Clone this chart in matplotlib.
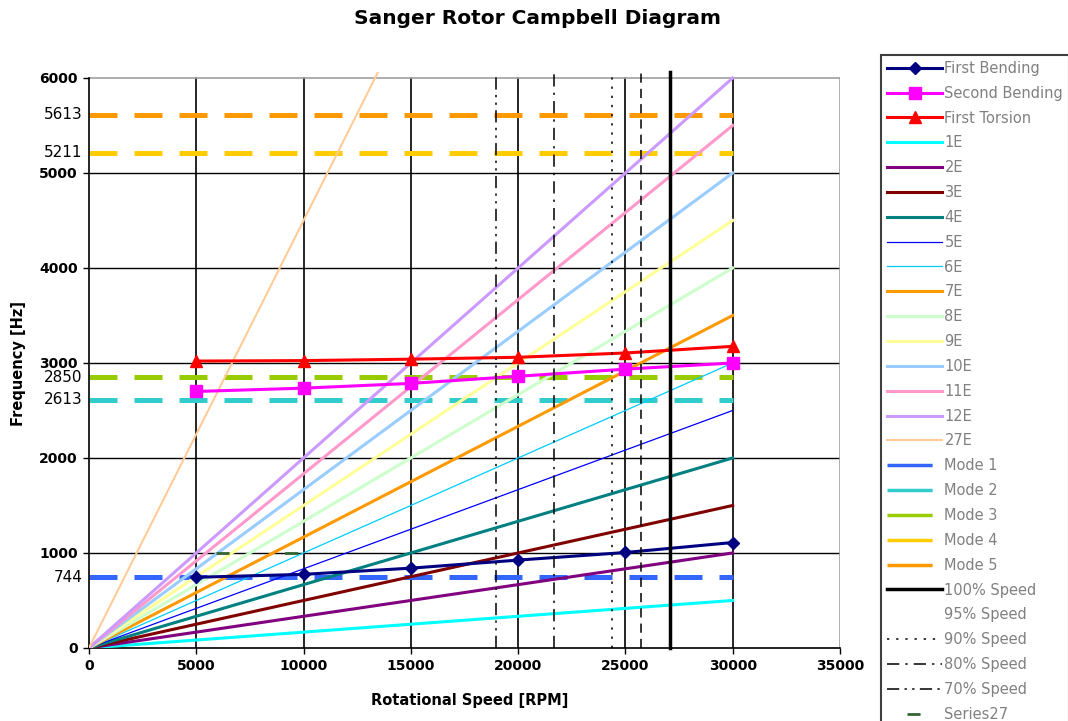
import matplotlib
matplotlib.use('Agg')
from matplotlib import pyplot as plt
from matplotlib.lines import Line2D

# rotor speed stations (RPM)
rpm = [5000, 10000, 15000, 20000, 25000, 30000]
first_bending = [744, 775, 840, 925, 1005, 1110]
second_bending = [2700, 2735, 2785, 2860, 2935, 3000]
first_torsion = [3020, 3025, 3040, 3060, 3105, 3175]

# engine order lines: frequency at 0 and at 30000 RPM
order_names = ['1E', '2E', '3E', '4E', '5E', '6E', '7E', '8E', '9E', '10E', '11E', '12E', '27E']
order_rpm = [0, 30000]
order_end = [500, 1000, 1500, 2000, 2500, 3000, 3500, 4000, 4500, 5000, 5500, 6000, 13500]
order_colors = ['#00FFFF', '#800080', '#800000', '#008080', '#0000FF', '#00CCFF', '#FF9900',
                '#CCFFCC', '#FFFF99', '#99CCFF', '#FF99CC', '#CC99FF', '#FFCC99']
order_widths = [2.2, 2.2, 2.2, 2.2, 0.9, 0.9, 2.2, 2.2, 2.2, 2.2, 2.2, 2.2, 1.5]

# blade modes (Hz)
mode_names = ['Mode 1', 'Mode 2', 'Mode 3', 'Mode 4', 'Mode 5']
mode_freq = [744, 2613, 2850, 5211, 5613]
mode_colors = ['#3366FF', '#33CCCC', '#99CC00', '#FFCC00', '#FF9900']

# speed lines
max_speed = 27100
speed_pct = [100, 95, 90, 80, 70]
speed_names = ['100% Speed', '95% Speed', '90% Speed', '80% Speed', '70% Speed']
speed_styles = ['-', (0, (6, 4)), (0, (1.5, 4.5)), (0, (8, 4, 1.5, 4)), (0, (8, 3.5, 1.5, 3.5, 1.5, 3.5))]
speed_widths = [2.5, 1.1, 1.1, 1.1, 1.1]

ytop = 6065

fig = plt.figure(figsize=(10.68, 7.21), dpi=100)
ax = fig.add_axes([0.0833, 0.1013, 0.7032, 0.7991])
ax.set_xlim(0, 35000)
ax.set_ylim(0, ytop)

# grid
for x in range(5000, 35000, 5000):
    ax.axvline(x, 0, 6000 / ytop, color='black', lw=1.2, zorder=1)
for y in range(1000, 6000, 1000):
    ax.axhline(y, color='black', lw=1.0, zorder=1)
ax.axhline(6000, color='#a0a0a0', lw=1.2, zorder=1)
ax.axvline(35000, 0, 6000 / ytop, color='#a0a0a0', lw=1.2, zorder=1)

# modes
mode_lines = []
for name, f, c in zip(mode_names, mode_freq, mode_colors):
    ax.plot([0, 30000], [f, f], color=c, lw=3.6, dashes=(5.6, 3.4), zorder=2)
    mode_lines.append(Line2D([], [], color=c, lw=2.5, linestyle=(0, (13, 20))))

# order lines
order_lines = []
for name, e, c, w in zip(order_names, order_end, order_colors, order_widths):
    l, = ax.plot(order_rpm, [0, e], color=c, lw=w, zorder=3)
    order_lines.append(l)

# blade natural frequencies
fb, = ax.plot(rpm, first_bending, color='#000080', lw=2.2, marker='D', ms=6, zorder=5)
sb, = ax.plot(rpm, second_bending, color='#FF00FF', lw=2.2, marker='s', ms=8, zorder=5)
ft, = ax.plot(rpm, first_torsion, color='#FF0000', lw=2.2, marker='^', ms=8, zorder=5)

# speed lines
speed_lines = []
for p, ls, w in zip(speed_pct, speed_styles, speed_widths):
    x = max_speed * p / 100.0
    l, = ax.plot([x, x], [0, 6060], color='black', lw=w, linestyle=ls, zorder=6, clip_on=False)
    speed_lines.append(l)
speed_lines[1] = Line2D([], [], linestyle='None')

s27, = ax.plot([5000, 10000], [1000, 1000], color='#336633', lw=2, linestyle=(17.5, (4.7, 20)), zorder=4)

handles = [fb, sb, ft] + order_lines + mode_lines + speed_lines + [s27]
labels = ['First Bending', 'Second Bending', 'First Torsion'] + order_names + mode_names + speed_names + ['Series27']

# axes
ax.spines['top'].set_visible(False)
ax.spines['right'].set_visible(False)
ax.spines['left'].set_bounds(0, 6000)
ax.spines['left'].set_linewidth(1.2)
ax.spines['bottom'].set_linewidth(1.2)
ax.set_xticks(range(0, 35001, 5000))
ax.set_yticks(range(0, 6001, 1000))
ax.tick_params(direction='out', length=4, width=1, labelsize=10, pad=4)
for t in ax.get_xticklabels() + ax.get_yticklabels():
    t.set_fontweight('bold')

for f in mode_freq:
    ax.text(-0.009, f, str(f), transform=ax.get_yaxis_transform(), ha='right', va='center', fontsize=11)

fig.text(0.503, 0.975, 'Sanger Rotor Campbell Diagram', ha='center', va='center', fontsize=14.5, fontweight='bold')
fig.text(0.4396, 0.029, 'Rotational Speed [RPM]', ha='center', va='center', fontsize=10.5, fontweight='bold')
fig.text(0.0169, 0.4965, 'Frequency [Hz]', ha='center', va='center', rotation=90, fontsize=10.5, fontweight='bold')

leg = fig.legend(handles, labels, loc='upper left', bbox_to_anchor=(881 / 1068, 1 - 55 / 721),
                 bbox_transform=fig.transFigure, borderaxespad=0, fontsize=10.5, labelcolor='#808080',
                 handlelength=3.8, handletextpad=0.15, labelspacing=0.675, borderpad=0.4,
                 numpoints=1, fancybox=False, framealpha=1)
leg.get_frame().set_edgecolor('#404040')
leg.get_frame().set_linewidth(1.5)

plt.savefig('out.png', dpi=100)
